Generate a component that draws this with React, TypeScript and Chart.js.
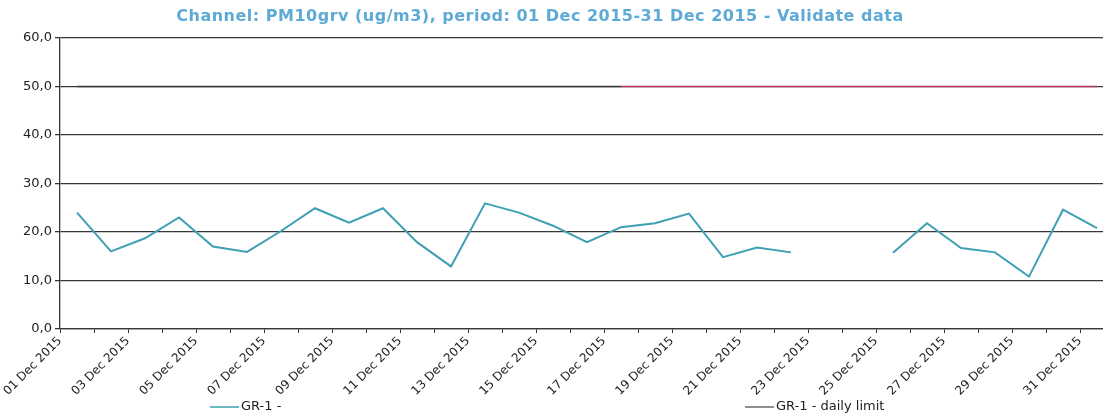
import React, { useEffect, useRef } from 'react';
import { Chart, registerables } from 'chart.js';

Chart.register(...registerables);

const TITLE = 'Channel: PM10grv (ug/m3), period: 01 Dec 2015-31 Dec 2015 - Validate data';

const categories = [
  '01 Dec 2015', '02 Dec 2015', '03 Dec 2015', '04 Dec 2015', '05 Dec 2015',
  '06 Dec 2015', '07 Dec 2015', '08 Dec 2015', '09 Dec 2015', '10 Dec 2015',
  '11 Dec 2015', '12 Dec 2015', '13 Dec 2015', '14 Dec 2015', '15 Dec 2015',
  '16 Dec 2015', '17 Dec 2015', '18 Dec 2015', '19 Dec 2015', '20 Dec 2015',
  '21 Dec 2015', '22 Dec 2015', '23 Dec 2015', '24 Dec 2015', '25 Dec 2015',
  '26 Dec 2015', '27 Dec 2015', '28 Dec 2015', '29 Dec 2015', '30 Dec 2015',
  '31 Dec 2015',
];

const pm10Values: (number | null)[] = [
  24.0, 16.0, 18.7, 23.0, 17.0, 15.9, 20.2, 24.9, 21.9, 24.9,
  17.9, 12.9, 25.9, 24.0, 21.3, 17.9, 21.0, 21.8, 23.8, 14.8,
  16.8, 15.8, null, null, 15.7, 21.8, 16.7, 15.8, 10.8, 24.6,
  20.8,
];

const dailyLimitValues = [
  50, 50, 50, 50, 50, 50, 50, 50, 50, 50,
  50, 50, 50, 50, 50, 50, 50, 50, 50, 50,
  50, 50, 50, 50, 50, 50, 50, 50, 50, 50,
  50,
];

const seriesLabels = ['GR-1 -', 'GR-1 - daily limit'];
const yTickValues = [0, 10, 20, 30, 40, 50, 60];

const SERIES_COLOR = '#3f9fb4';
const LIMIT_COLOR = '#b8336a';
const LIMIT_LEGEND_COLOR = '#6a6a6a';
const GRID_COLOR = '#383838';
const LIMIT_RED_FROM = 16;

const overlayPlugin = {
  id: 'overlayText',
  afterDraw(chart: any) {
    const ctx: CanvasRenderingContext2D = chart.ctx;
    ctx.save();
    ctx.font = 'bold 16px "DejaVu Sans"';
    (ctx as any).letterSpacing = '0.5px';
    ctx.fillStyle = '#5eaad6';
    ctx.textAlign = 'center';
    ctx.textBaseline = 'middle';
    ctx.fillText(TITLE, 540, 17);
    (ctx as any).letterSpacing = '0px';

    const legendX = [210, 745];
    const legendColors = [SERIES_COLOR, LIMIT_LEGEND_COLOR];
    const y = 407;
    ctx.font = '13px "DejaVu Sans"';
    ctx.textAlign = 'left';
    seriesLabels.forEach((label, i) => {
      ctx.strokeStyle = legendColors[i];
      ctx.lineWidth = 1.5;
      ctx.beginPath();
      ctx.moveTo(legendX[i], y);
      ctx.lineTo(legendX[i] + 29, y);
      ctx.stroke();
      ctx.fillStyle = '#222';
      ctx.fillText(label, legendX[i] + 31, y);
    });
    ctx.restore();
  },
};

export default function App() {
  const canvasRef = useRef<HTMLCanvasElement | null>(null);

  useEffect(() => {
    if (!canvasRef.current) return;
    const chart = new Chart(canvasRef.current, {
      type: 'line',
      data: {
        labels: categories,
        datasets: [
          {
            label: seriesLabels[1],
            data: dailyLimitValues,
            borderColor: LIMIT_COLOR,
            borderWidth: 1.6,
            pointRadius: 0,
            segment: {
              borderColor: (c: any) => (c.p0DataIndex < LIMIT_RED_FROM ? GRID_COLOR : LIMIT_COLOR),
            },
          },
          {
            label: seriesLabels[0],
            data: pm10Values,
            borderColor: SERIES_COLOR,
            borderWidth: 2,
            pointRadius: 0,
            spanGaps: false,
            tension: 0,
          },
        ],
      },
      options: {
        animation: false,
        responsive: false,
        devicePixelRatio: 1,
        layout: { padding: { top: 38, left: 0, right: 6, bottom: 15 } },
        plugins: {
          legend: { display: false },
          title: { display: false },
          tooltip: { enabled: false },
        },
        scales: {
          x: {
            type: 'category',
            offset: true,
            grid: {
              offset: true,
              drawOnChartArea: false,
              drawTicks: true,
              tickLength: 4,
              color: GRID_COLOR,
            },
            border: { color: GRID_COLOR, width: 1.3 },
            ticks: {
              autoSkip: false,
              minRotation: 45,
              maxRotation: 45,
              labelOffset: -17,
              padding: 1,
              color: '#222',
              font: { family: '"DejaVu Sans"', size: 12 },
              callback: (_v: any, index: number) => (index % 2 === 0 ? categories[index] : ''),
            },
            afterFit: (scale: any) => {
              scale.height = 70;
            },
          },
          y: {
            min: yTickValues[0],
            max: yTickValues[yTickValues.length - 1],
            grid: {
              color: GRID_COLOR,
              lineWidth: 1.3,
              drawTicks: true,
              tickLength: 5,
            },
            border: { color: GRID_COLOR, width: 1.3 },
            afterBuildTicks: (scale: any) => {
              scale.ticks = yTickValues.map((v) => ({ value: v }));
            },
            ticks: {
              padding: 3,
              color: '#222',
              font: { family: '"DejaVu Sans"', size: 13 },
              callback: (v: any) => Number(v).toFixed(1).replace('.', ','),
            },
            afterFit: (scale: any) => {
              scale.width = 60;
            },
          },
        },
      },
      plugins: [overlayPlugin],
    });
    return () => chart.destroy();
  }, []);

  return (
    <div
      style={{
        position: 'fixed',
        left: 0,
        top: 0,
        width: 1103,
        height: 414,
        overflow: 'hidden',
        background: '#fff',
      }}
    >
      <canvas ref={canvasRef} width={1120} height={414} style={{ width: 1120, height: 414, display: 'block' }} />
    </div>
  );
}
